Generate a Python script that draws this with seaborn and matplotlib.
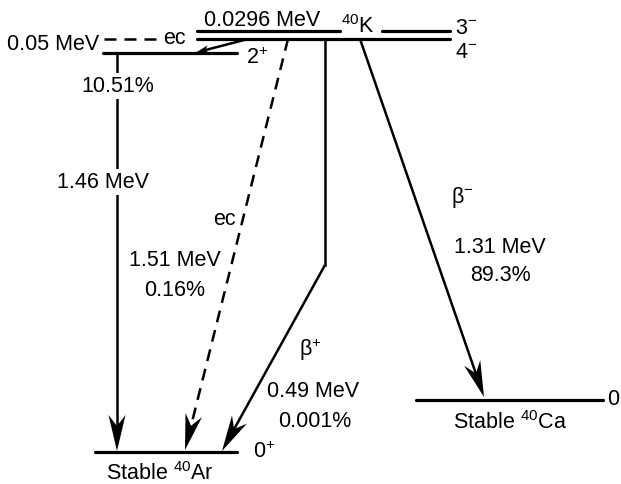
import numpy as np
import pandas as pd
import seaborn as sns
import matplotlib
matplotlib.use("Agg")
from matplotlib import pyplot as plt
from matplotlib.patches import Polygon

sns.set_theme(style="white")
plt.rcParams["font.family"] = ["Liberation Sans", "DejaVu Sans"]
plt.rcParams["mathtext.fontset"] = "custom"
plt.rcParams["mathtext.rm"] = "Liberation Sans"
plt.rcParams["mathtext.it"] = "Liberation Sans"

# decay data
energies = ["0.0296 MeV", "0.05 MeV", "1.46 MeV", "1.51 MeV", "0.49 MeV", "1.31 MeV"]
branches = ["10.51%", "0.16%", "0.001%", "89.3%"]
spins = [r"3$^{-}$", r"4$^{-}$", r"2$^{+}$", r"0$^{+}$", "0"]
modes = ["ec", "ec", r"β$^{+}$", r"β$^{-}$"]
nuclides = [r"$^{40}$K", r"Stable $^{40}$Ar", r"Stable $^{40}$Ca"]

# layout of the levels (pixel space, y down)
lev_x0 = [197, 382, 197, 103, 95, 416]
lev_x1 = [340, 450, 450, 237, 237, 603]
lev_y = [32, 32, 40, 54, 453, 401]

fig = plt.figure(figsize=(6.21, 4.85), dpi=100)
ax = fig.add_axes([0, 0, 1, 1])

rows = []
for i in range(len(lev_x0)):
    rows.append({"seg": i, "x": lev_x0[i], "y": lev_y[i]})
    rows.append({"seg": i, "x": lev_x1[i], "y": lev_y[i]})
lev_df = pd.DataFrame(rows)
sns.lineplot(data=lev_df, x="x", y="y", units="seg", estimator=None, sort=False,
             color="black", linewidth=2.3, legend=False, ax=ax)

LW = 1.8
DASH = (0, (4.8, 3.2))


def arrow(x0, y0, x1, y1, dashed=False, hl=36, hw=8.5, notch=11, lw=LW):
    d = np.array([x1 - x0, y1 - y0], dtype=float)
    L = np.hypot(*d)
    u = d / L
    n = np.array([-u[1], u[0]])
    tip = np.array([x1, y1])
    back = tip - u * hl
    inner = tip - u * (hl - notch)
    ls = DASH if dashed else "-"
    ax.plot([x0, inner[0]], [y0, inner[1]], color="black", lw=lw, ls=ls,
            solid_capstyle="butt", dash_capstyle="butt")
    head = [tip, back + n * hw, inner, back - n * hw]
    ax.add_patch(Polygon(head, closed=True, color="black", lw=0))


# transitions
arrow(248, 40, 196, 53.5, hl=13, hw=4, notch=3.5, lw=1.8)
arrow(117, 54, 117, 452)
arrow(288, 40, 185, 451, dashed=True)
ax.plot([325, 325], [40, 266], color="black", lw=LW, solid_capstyle="projecting")
arrow(325, 266, 222, 452)
arrow(360, 40, 484, 398)
ax.plot([104, 156], [40, 40], color="black", lw=LW, ls=DASH, dash_capstyle="butt")

fs = 15.5
wb = dict(facecolor="white", edgecolor="none", pad=1.5)
kw = dict(fontsize=fs, color="black", va="center")

ax.text(262, 21, energies[0], ha="center", **kw)
ax.text(358, 27, nuclides[0], ha="center", **kw)
ax.text(455, 28, spins[0], ha="left", **kw)
ax.text(455, 52, spins[1], ha="left", **kw)
ax.text(99, 45, energies[1], ha="right", **kw)
ax.text(174, 39, modes[0], ha="center", **kw)
ax.text(246, 58, spins[2], ha="left", **kw)
ax.text(118, 87, branches[0], ha="center", bbox=wb, **kw)
ax.text(103, 183, energies[2], ha="center", bbox=wb, **kw)
ax.text(224, 220, modes[1], ha="center", **kw)
ax.text(175, 261, energies[3], ha="center", **kw)
ax.text(175, 291, branches[1], ha="center", **kw)
ax.text(310, 350, modes[2], ha="center", **kw)
ax.text(313, 392, energies[4], ha="center", **kw)
ax.text(315, 422, branches[2], ha="center", **kw)
ax.text(253, 452, spins[3], ha="left", **kw)
ax.text(160, 474, nuclides[1], ha="center", **kw)
ax.text(462, 198, modes[3], ha="center", **kw)
ax.text(500, 248, energies[5], ha="center", **kw)
ax.text(500, 276, branches[3], ha="center", **kw)
ax.text(607, 400, spins[4], ha="left", **kw)
ax.text(510, 423, nuclides[2], ha="center", **kw)

ax.set_xlim(0, 621)
ax.set_ylim(485, 0)
ax.set_xlabel("")
ax.set_ylabel("")
ax.axis("off")

plt.savefig("out.png", dpi=100)
